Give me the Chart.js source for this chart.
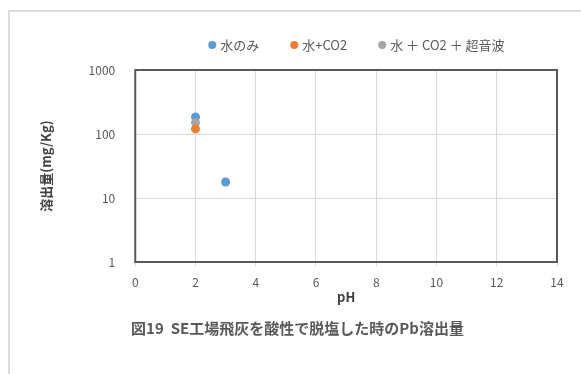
<!DOCTYPE html>
<html>
<head>
<meta charset="utf-8">
<script src="https://cdn.jsdelivr.net/npm/chart.js@4/dist/chart.umd.min.js"></script>
<style>
  body { margin: 0; background: #fff; }
  #wrap { position: relative; width: 581px; height: 374px; }
  #frame { position: absolute; left: 8px; top: 10px; right: 0; bottom: 0;
           border-top: 2px solid #dcdcdc; border-left: 2px solid #dcdcdc; }
  canvas { position: absolute; left: 0; top: 0; }
</style>
</head>
<body>
<div id="wrap">
  <div id="frame"></div>
  <canvas id="chart" width="581" height="374"></canvas>
</div>
<script>
// data
var seriesNames = ['水のみ', '水+CO2', '水 ＋ CO2 ＋ 超音波'];
var seriesColors = ['#5b9bd5', '#ed7d31', '#a5a5a5'];
var waterPH = [2, 3];
var waterPb = [184, 17.8];
var co2PH = [2];
var co2Pb = [120];
var sonicPH = [2];
var sonicPb = [150];
var yTicks = [1, 10, 100, 1000];

function toPoints(xs, ys) {
  return xs.map(function(x, i) { return {x: x, y: ys[i]}; });
}

var textColor = '#595959';
var fontFamily = '"Noto Sans CJK JP", "Noto Sans", sans-serif';

// draw a box round the plot area
var plotBorder = {
  id: 'plotBorder',
  afterDatasetsDraw: function(chart) {
    var a = chart.chartArea, ctx = chart.ctx;
    ctx.save();
    ctx.strokeStyle = '#595959';
    ctx.lineWidth = 2;
    ctx.strokeRect(a.left, a.top, a.right - a.left, a.bottom - a.top);
    ctx.restore();
  }
};

// legend drawn by hand so it can sit right of centre like the original
var sideLegend = {
  id: 'sideLegend',
  afterDraw: function(chart, args, opts) {
    var ctx = chart.ctx;
    var x = chart.chartArea.left + opts.offsetX;
    var y = opts.y;
    ctx.save();
    ctx.font = '13px ' + fontFamily;
    ctx.textBaseline = 'middle';
    chart.data.datasets.forEach(function(ds) {
      ctx.fillStyle = ds.backgroundColor;
      ctx.beginPath();
      ctx.arc(x, y, 4, 0, Math.PI * 2);
      ctx.fill();
      ctx.fillStyle = textColor;
      ctx.fillText(ds.label, x + 8, y);
      x += 8 + ctx.measureText(ds.label).width + opts.gap;
    });
    ctx.restore();
  }
};

var ctx = document.getElementById('chart');
var chart = new Chart(ctx, {
  type: 'scatter',
  data: {
    datasets: [{
      label: seriesNames[0],
      data: toPoints(waterPH, waterPb),
      backgroundColor: seriesColors[0],
      borderColor: seriesColors[0],
      order: 2
    }, {
      label: seriesNames[1],
      data: toPoints(co2PH, co2Pb),
      backgroundColor: seriesColors[1],
      borderColor: seriesColors[1],
      order: 0
    }, {
      label: seriesNames[2],
      data: toPoints(sonicPH, sonicPb),
      backgroundColor: seriesColors[2],
      borderColor: seriesColors[2],
      order: 1
    }]
  },
  options: {
    responsive: false,
    animation: false,
    elements: { point: { radius: 4.5, borderWidth: 0 } },
    layout: { padding: { left: 38, right: 24, top: 70, bottom: 37 } },
    plugins: {
      tooltip: { enabled: false },
      legend: { display: false },
      sideLegend: { offsetX: 77, y: 45, gap: 35 },
      title: {
        display: true,
        position: 'bottom',
        text: '図19  SE工場飛灰を酸性で脱塩した時のPb溶出量',
        color: textColor,
        font: { family: fontFamily, size: 15, weight: 'bold' },
        padding: { top: 14, bottom: 0 }
      }
    },
    scales: {
      x: {
        type: 'linear',
        min: 0,
        max: 14,
        ticks: { stepSize: 2, color: textColor, font: { family: fontFamily, size: 12 }, padding: 9 },
        grid: { color: '#d9d9d9', tickLength: 4 },
        border: { display: false },
        title: {
          display: true,
          text: 'pH',
          color: '#404040',
          font: { family: fontFamily, size: 13, weight: 'bold' },
          padding: { top: -9, bottom: 0 }
        }
      },
      y: {
        type: 'logarithmic',
        min: 1,
        max: 1000,
        afterBuildTicks: function(axis) {
          axis.ticks = yTicks.map(function(v) { return {value: v}; });
        },
        ticks: {
          color: textColor,
          font: { family: fontFamily, size: 12 },
          padding: 20,
          callback: function(v) { return String(v); }
        },
        grid: { color: '#d9d9d9', drawTicks: false },
        border: { display: false },
        title: {
          display: true,
          text: '溶出量(mg/Kg)',
          color: '#404040',
          font: { family: fontFamily, size: 13, weight: 'bold' },
          padding: { top: 0, bottom: 15 }
        }
      }
    }
  },
  plugins: [plotBorder, sideLegend]
});
</script>
</body>
</html>
